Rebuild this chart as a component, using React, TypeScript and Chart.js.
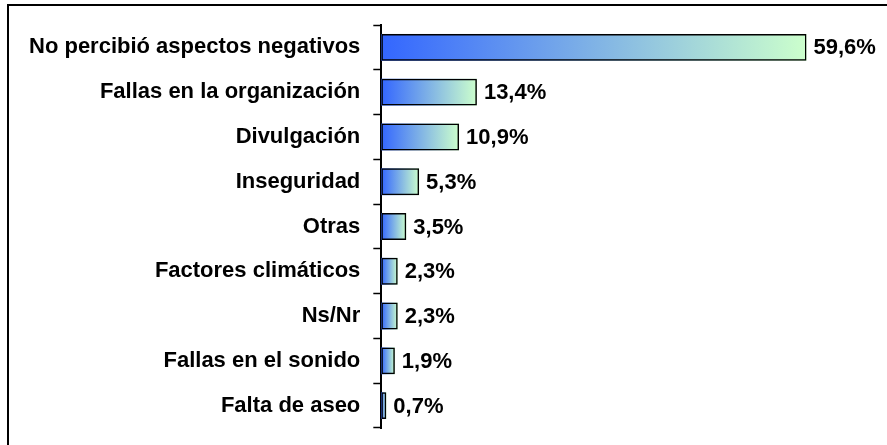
import React, { useEffect, useRef } from 'react';
import { Chart, registerables } from 'chart.js';

Chart.register(...registerables);

const categories = [
  'No percibió aspectos negativos',
  'Fallas en la organización',
  'Divulgación',
  'Inseguridad',
  'Otras',
  'Factores climáticos',
  'Ns/Nr',
  'Fallas en el sonido',
  'Falta de aseo',
];
const values = [59.6, 13.4, 10.9, 5.3, 3.5, 2.3, 2.3, 1.9, 0.7];
const xMax = 65;

const FAMILY = "'Liberation Sans', Arial, sans-serif";
const FONT_SIZE = 22;

const fmt = (v: number) => v.toFixed(1).replace('.', ',') + '%';

const framePlugin = {
  id: 'frame',
  beforeDraw(chart: any) {
    const ctx = chart.ctx;
    ctx.save();
    ctx.fillStyle = '#fff';
    ctx.fillRect(0, 0, chart.width, chart.height);
    ctx.strokeStyle = '#000';
    ctx.lineWidth = 2;
    ctx.beginPath();
    ctx.moveTo(8, chart.height);
    ctx.lineTo(8, 5);
    ctx.lineTo(chart.width, 5);
    ctx.stroke();
    ctx.restore();
  },
};

const gradientPlugin = {
  id: 'gradBars',
  beforeDatasetsDraw(chart: any) {
    const ctx = chart.ctx;
    const meta = chart.getDatasetMeta(0);
    ctx.save();
    meta.data.forEach((el: any) => {
      const { x, y, base, height } = el.getProps(['x', 'y', 'base', 'height'], true);
      const g = ctx.createLinearGradient(base, 0, x, 0);
      g.addColorStop(0, '#3366FF');
      g.addColorStop(1, '#CCFFCC');
      ctx.fillStyle = g;
      ctx.fillRect(base, y - height / 2, x - base, height);
    });
    ctx.restore();
  },
  afterDatasetsDraw(chart: any) {
    const ctx = chart.ctx;
    const meta = chart.getDatasetMeta(0);
    ctx.save();
    ctx.font = `bold ${FONT_SIZE}px ${FAMILY}`;
    ctx.fillStyle = '#000';
    ctx.textAlign = 'left';
    ctx.textBaseline = 'middle';
    meta.data.forEach((el: any, i: number) => {
      const { x, y } = el.getProps(['x', 'y'], true);
      ctx.fillText(fmt(values[i]), x + 7, y + 1);
    });
    ctx.restore();
  },
};

export default function App() {
  const ref = useRef<HTMLCanvasElement>(null);
  useEffect(() => {
    if (!ref.current) return;
    const chart = new Chart(ref.current, {
      type: 'bar',
      data: {
        labels: categories,
        datasets: [
          {
            data: values,
            backgroundColor: 'rgba(0,0,0,0)',
            borderColor: '#000',
            borderWidth: 1.5,
            borderSkipped: false,
            barPercentage: 0.6,
            categoryPercentage: 1,
          },
        ],
      },
      options: {
        indexAxis: 'y',
        animation: false,
        responsive: true,
        maintainAspectRatio: false,
        layout: { padding: { left: 16, right: 42, top: 25, bottom: 17 } },
        plugins: {
          legend: { display: false },
          tooltip: { enabled: false },
        },
        scales: {
          x: { display: false, min: 0, max: xMax },
          y: {
            afterFit: (scale: any) => {
              scale.paddingTop = 0;
              scale.paddingBottom = 0;
            },
            grid: {
              drawOnChartArea: false,
              offset: true,
              tickLength: 8,
              tickColor: '#000',
              tickWidth: 1.5,
            },
            border: { color: '#000', width: 2 },
            ticks: {
              color: '#000',
              padding: 13,
              font: { family: FAMILY, size: FONT_SIZE, weight: 'bold' },
            },
          },
        },
      },
      plugins: [framePlugin, gradientPlugin],
    });
    return () => chart.destroy();
  }, []);
  return (
    <div style={{ position: 'fixed', left: 0, top: 0, width: 887, height: 445, background: '#fff' }}>
      <canvas ref={ref} />
    </div>
  );
}
